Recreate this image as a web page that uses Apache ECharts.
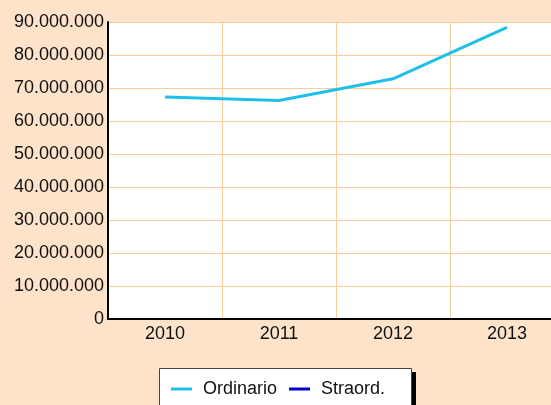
<!DOCTYPE html>
<html>
<head>
<meta charset="utf-8">
<script src="https://cdn.jsdelivr.net/npm/echarts@6/dist/echarts.min.js"></script>
<style>
  html, body { margin: 0; padding: 0; background: #fde3ca; overflow: hidden; }
  /* the plot runs past the right edge of the page, so the canvas is wider than the view */
  #chart { width: 564px; height: 405px; }
</style>
</head>
<body>
<div id="chart"></div>
<script>
// Years on the category axis
const years = ['2010', '2011', '2012', '2013'];
// Ordinary revenue per year
const ordinario = [67300000, 66200000, 72800000, 88400000];
// Extraordinary revenue (no values recorded)
const straord = [null, null, null, null];
// Value axis range
const yMin = 0;
const yMax = 90000000;
const yStep = 10000000;

const FONT = '"Liberation Sans", Arial, sans-serif';
const GRID_COLOR = '#f6cd9c';

function fmtThousands(v) {
  return String(Math.round(v)).replace(/\B(?=(\d{3})+(?!\d))/g, '.');
}

const chart = echarts.init(document.getElementById('chart'), null, { renderer: 'canvas' });
chart.setOption({
  backgroundColor: '#fde3ca',
  animation: false,
  grid: {
    left: 108, top: 22, right: 0, bottom: 86,
    show: true, backgroundColor: '#ffffff', borderWidth: 0
  },
  // legend frame with a hard drop shadow on the right
  graphic: [
    { type: 'rect', z: 0, shape: { x: 163, y: 372, width: 253, height: 60 }, style: { fill: '#000000' } },
    { type: 'rect', z: 1, shape: { x: 159.5, y: 368.5, width: 252, height: 60 }, style: { fill: '#ffffff', stroke: '#444444', lineWidth: 1 } }
  ],
  legend: {
    left: 159, top: 368,
    padding: [12, 14, 12, 12],
    z: 5,
    icon: 'rect',
    itemWidth: 21,
    itemHeight: 3,
    itemGap: 12,
    textStyle: { fontFamily: FONT, fontSize: 18, color: '#111', padding: [0, 0, 0, 6] },
    data: ['Ordinario', 'Straord.']
  },
  xAxis: {
    type: 'category',
    data: years,
    boundaryGap: true,
    axisLine: { show: true, lineStyle: { color: '#000', width: 2 } },
    axisTick: { show: false },
    axisLabel: { fontFamily: FONT, fontSize: 18, color: '#111', margin: 6 },
    splitLine: { show: true, lineStyle: { color: GRID_COLOR, width: 1 } }
  },
  yAxis: {
    type: 'value',
    min: yMin, max: yMax, interval: yStep,
    axisLine: { show: true, lineStyle: { color: '#000', width: 2 } },
    axisTick: { show: false },
    axisLabel: { fontFamily: FONT, fontSize: 18, color: '#111', margin: 4, formatter: fmtThousands },
    splitLine: { show: true, lineStyle: { color: GRID_COLOR, width: 1 } }
  },
  series: [
    {
      name: 'Ordinario', type: 'line', data: ordinario,
      showSymbol: false, symbol: 'none',
      itemStyle: { color: '#1fbfe7' },
      lineStyle: { color: '#1fbfe7', width: 3 }
    },
    {
      name: 'Straord.', type: 'line', data: straord,
      showSymbol: false, symbol: 'none',
      itemStyle: { color: '#0000cc' },
      lineStyle: { color: '#0000cc', width: 3 }
    }
  ]
});
</script>
</body>
</html>
